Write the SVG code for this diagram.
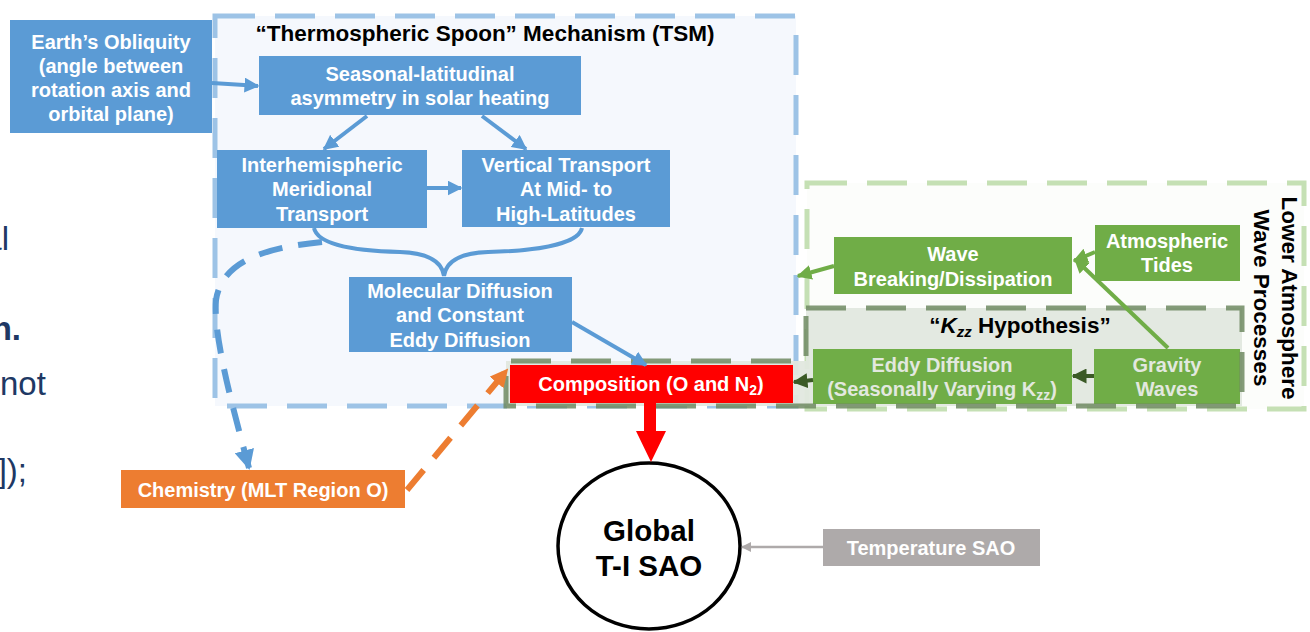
<svg xmlns="http://www.w3.org/2000/svg" width="1310" height="632" viewBox="0 0 1310 632">
  <defs>
    <style>
      text { font-family: "Liberation Sans", Arial, sans-serif; font-weight: bold; text-anchor: middle; }
      .lbl { font-size: 20px; fill: #ffffff; }
      .dim { font-size: 20px; fill: #e2e8df; }
      .ttl { font-size: 22.5px; fill: #000000; }
      .side { font-family: "Liberation Sans", Arial, sans-serif; font-size: 33px; font-weight: normal; fill: #203864; }
      .blue { fill: #5b9bd5; }
      .green { fill: #70ad47; }
      .arr-b { stroke: #5b9bd5; stroke-width: 4; fill: none; }
      .arr-g { stroke: #70ad47; stroke-width: 4; fill: none; }
      .arr-d { stroke: #3b5a26; stroke-width: 4; fill: none; }
    </style>
    <marker id="hb" viewBox="0 0 10 10" refX="9" refY="5" markerWidth="15" markerHeight="15" markerUnits="userSpaceOnUse" orient="auto">
      <path d="M0,0 L10,5 L0,10 z" fill="#5b9bd5"/>
    </marker>
    <marker id="hbd" viewBox="0 0 10 10" refX="9" refY="5" markerWidth="20" markerHeight="20" markerUnits="userSpaceOnUse" orient="auto">
      <path d="M0,0 L10,5 L0,10 z" fill="#5b9bd5"/>
    </marker>
    <marker id="hg" viewBox="0 0 10 10" refX="9" refY="5" markerWidth="15" markerHeight="15" markerUnits="userSpaceOnUse" orient="auto">
      <path d="M0,0 L10,5 L0,10 z" fill="#70ad47"/>
    </marker>
    <marker id="hd" viewBox="0 0 10 10" refX="9" refY="5" markerWidth="15" markerHeight="15" markerUnits="userSpaceOnUse" orient="auto">
      <path d="M0,0 L10,5 L0,10 z" fill="#3b5a26"/>
    </marker>
    <marker id="ho" viewBox="0 0 10 10" refX="9" refY="5" markerWidth="18" markerHeight="18" markerUnits="userSpaceOnUse" orient="auto">
      <path d="M0,0 L10,5 L0,10 z" fill="#ed7d31"/>
    </marker>
    <marker id="hgr" viewBox="0 0 10 10" refX="9" refY="5" markerWidth="10" markerHeight="10" markerUnits="userSpaceOnUse" orient="auto">
      <path d="M0,0 L10,5 L0,10 z" fill="#aeaaaa"/>
    </marker>
  </defs>

  <rect width="1310" height="632" fill="#ffffff"/>

  <!-- text running in from the left margin -->
  <g id="margin-text">
    <text class="side" x="9" y="250" style="text-anchor:end">al</text>
    <text class="side" x="21" y="340" style="text-anchor:end;font-weight:bold">n.</text>
    <text class="side" x="0" y="395" style="text-anchor:start">not</text>
    <text class="side" x="27" y="482" style="text-anchor:end">]);</text>
  </g>

  <!-- containers -->
  <g id="tsm">
    <rect x="215" y="16" width="581" height="390" fill="#f5f8fd" stroke="#9dc3e6" stroke-width="5" stroke-dasharray="40 20"/>
    <text class="ttl" x="485" y="41">“Thermospheric Spoon” Mechanism (TSM)</text>
  </g>

  <g id="lower-atmosphere">
    <rect x="807" y="183" width="497" height="226" fill="#fcfdfb" stroke="#c5e0b4" stroke-width="5" stroke-dasharray="40 20"/>
    <g transform="translate(1276,298) rotate(90)">
      <text class="ttl" x="0" y="-6">Lower Atmosphere</text>
      <text class="ttl" x="0" y="22">Wave Processes</text>
    </g>
  </g>

  <g id="kzz-area">
    <path d="M806,308 H1242 V406 H506 V361 H806 Z" fill="#e2e8df" opacity="0.95"/>
    <text class="ttl" x="1020" y="333">“<tspan font-style="italic">K</tspan><tspan font-style="italic" font-size="15" dy="4">zz</tspan><tspan dy="-4"> Hypothesis”</tspan></text>
  </g>

  <!-- nodes -->
  <g id="obliquity">
    <rect class="blue" x="10" y="20" width="202" height="113"/>
    <text class="lbl" x="111" y="49">Earth’s Obliquity</text>
    <text class="lbl" x="111" y="73">(angle between</text>
    <text class="lbl" x="111" y="97">rotation axis and</text>
    <text class="lbl" x="111" y="121">orbital plane)</text>
  </g>

  <g id="seasonal">
    <rect class="blue" x="259" y="56" width="322" height="59"/>
    <text class="lbl" x="420" y="81">Seasonal-latitudinal</text>
    <text class="lbl" x="420" y="105">asymmetry in solar heating</text>
  </g>

  <g id="interhemispheric">
    <rect class="blue" x="217" y="150" width="210" height="78"/>
    <text class="lbl" x="322" y="172">Interhemispheric</text>
    <text class="lbl" x="322" y="196">Meridional</text>
    <text class="lbl" x="322" y="221">Transport</text>
  </g>

  <g id="vertical">
    <rect class="blue" x="462" y="150" width="208" height="77"/>
    <text class="lbl" x="566" y="172">Vertical Transport</text>
    <text class="lbl" x="566" y="196">At Mid- to</text>
    <text class="lbl" x="566" y="221">High-Latitudes</text>
  </g>

  <g id="molecular">
    <rect class="blue" x="349" y="277" width="223" height="75"/>
    <text class="lbl" x="460" y="298">Molecular Diffusion</text>
    <text class="lbl" x="460" y="322">and Constant</text>
    <text class="lbl" x="460" y="347">Eddy Diffusion</text>
  </g>

  <g id="composition">
    <rect x="510" y="365" width="283" height="38" fill="#ff0000"/>
    <text class="lbl" x="651" y="391">Composition (O and N<tspan font-size="14" dy="4">2</tspan><tspan dy="-4">)</tspan></text>
  </g>

  <g id="wave-breaking">
    <rect class="green" x="834" y="237" width="238" height="57"/>
    <text class="lbl" x="953" y="261">Wave</text>
    <text class="lbl" x="953" y="286">Breaking/Dissipation</text>
  </g>

  <g id="tides">
    <rect class="green" x="1095" y="225" width="145" height="56"/>
    <text class="lbl" x="1167" y="248">Atmospheric</text>
    <text class="lbl" x="1167" y="272">Tides</text>
  </g>

  <g id="eddy">
    <rect class="green" x="813" y="349" width="259" height="55"/>
    <text class="dim" x="942" y="372">Eddy Diffusion</text>
    <text class="dim" x="942" y="396">(Seasonally Varying K<tspan font-size="14" dy="4">zz</tspan><tspan dy="-4">)</tspan></text>
  </g>

  <g id="gravity">
    <rect class="green" x="1094" y="349" width="146" height="55"/>
    <text class="dim" x="1167" y="372">Gravity</text>
    <text class="dim" x="1167" y="396">Waves</text>
  </g>

  <g id="kzz-border">
    <path d="M806,308 H1242 V406 H506 V361 H806 Z" fill="none" stroke="#6f8a62" stroke-width="5" stroke-dasharray="40 20" opacity="0.85"/>
  </g>

  <g id="chemistry">
    <rect x="121" y="470" width="284" height="38" fill="#ed7d31"/>
    <text class="lbl" x="263" y="497">Chemistry (MLT Region O)</text>
  </g>

  <g id="global-sao">
    <ellipse cx="649" cy="546" rx="91" ry="83" fill="#ffffff" stroke="#000000" stroke-width="3.5"/>
    <text x="649" y="541" style="font-size:29.5px;fill:#000">Global</text>
    <text x="649" y="576" style="font-size:29.5px;fill:#000">T-I SAO</text>
  </g>

  <g id="temperature-sao">
    <rect x="823" y="529" width="217" height="37" fill="#aeaaaa"/>
    <text class="lbl" x="931" y="555">Temperature SAO</text>
  </g>

  <!-- connectors -->
  <g id="connectors">
    <line class="arr-b" x1="212" y1="83" x2="258" y2="86" marker-end="url(#hb)"/>
    <line class="arr-b" x1="367" y1="116" x2="324" y2="149" marker-end="url(#hb)"/>
    <line class="arr-b" x1="482" y1="116" x2="526" y2="149" marker-end="url(#hb)"/>
    <line class="arr-b" x1="427" y1="188" x2="461" y2="188" marker-end="url(#hb)"/>
    <line class="arr-b" x1="572" y1="322" x2="646" y2="365" marker-end="url(#hb)"/>
    <!-- brace joining the two transport boxes -->
    <path class="arr-b" d="M314,228 C318,246 360,251 400,252 C430,253 442,262 444,276 C446,262 458,253 488,252 C528,251 578,246 582,228"/>
    <!-- dashed link to chemistry -->
    <path d="M322,242 C262,248 222,262 216,300 C213,335 232,405 249,468" fill="none" stroke="#5b9bd5" stroke-width="6" stroke-dasharray="24 16" marker-end="url(#hbd)"/>
    <!-- chemistry to composition -->
    <line x1="407" y1="490" x2="507" y2="370" stroke="#ed7d31" stroke-width="6" stroke-dasharray="26 16" marker-end="url(#ho)"/>
    <!-- lower atmosphere links -->
    <line class="arr-g" x1="834" y1="266" x2="798" y2="276" marker-end="url(#hg)"/>
    <line class="arr-g" x1="1095" y1="252" x2="1074" y2="261" marker-end="url(#hg)"/>
    <line class="arr-g" x1="1168" y1="348" x2="1075" y2="259" marker-end="url(#hg)"/>
    <line class="arr-d" x1="1094" y1="376" x2="1073" y2="376" marker-end="url(#hd)"/>
    <line class="arr-d" x1="813" y1="380" x2="794" y2="382" marker-end="url(#hd)"/>
    <!-- composition to global SAO -->
    <path d="M644,403 H656 V431 H666 L651,462 L636,431 H644 Z" fill="#ff0000"/>
    <!-- temperature SAO -->
    <line x1="823" y1="547" x2="742" y2="547" stroke="#aeaaaa" stroke-width="2.5" marker-end="url(#hgr)"/>
  </g>
</svg>
